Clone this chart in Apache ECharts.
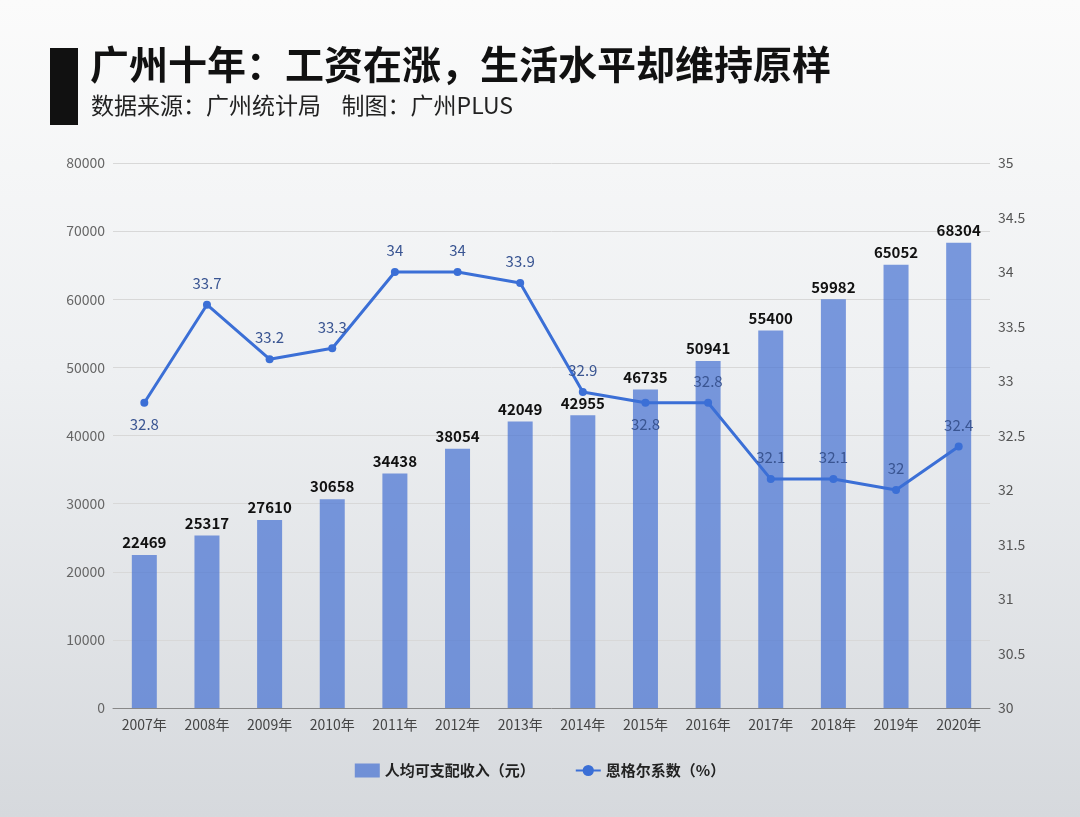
<!DOCTYPE html>
<html><head><meta charset="utf-8">
<script src="https://cdn.jsdelivr.net/npm/echarts@6/dist/echarts.min.js"></script>
<style>html,body{margin:0;padding:0;}#c{width:1080px;height:817px;}</style>
</head><body><div id="c"></div>
<script>
const years = ['2007年','2008年','2009年','2010年','2011年','2012年','2013年','2014年','2015年','2016年','2017年','2018年','2019年','2020年'];
const income = [22469,25317,27610,30658,34438,38054,42049,42955,46735,50941,55400,59982,65052,68304];
const engel = [32.8,33.7,33.2,33.3,34,34,33.9,32.9,32.8,32.8,32.1,32.1,32,32.4];
const belowIdx = [0,8];
const font = '"Noto Sans CJK SC","Noto Sans",sans-serif';
const chart = echarts.init(document.getElementById('c'));
chart.setOption({
  backgroundColor: new echarts.graphic.LinearGradient(0,0,0,1,[{offset:0,color:'#fbfbfb'},{offset:0.45,color:'#eef0f2'},{offset:1,color:'#d6d9dd'}]),
  textStyle:{fontFamily:font},
  graphic:[
    {type:'rect',left:50,top:48,shape:{width:28,height:77},style:{fill:'#111'}},
    {type:'text',left:90,top:45,style:{text:'广州十年：工资在涨，生活水平却维持原样',font:'bold 39px '+font,fill:'#111'}},
    {type:'text',left:91,top:94,style:{text:'数据来源：广州统计局    制图：广州PLUS',font:'23px '+font,fill:'#222'}}
  ],
  grid:{left:113,right:90,top:163,bottom:109},
  legend:{bottom:34,left:'center',itemGap:40,textStyle:{fontSize:15,fontWeight:'bold',color:'#222'},
    data:[{name:'人均可支配收入（元）',icon:'rect'},{name:'恩格尔系数（%）'}]},
  xAxis:{type:'category',data:years,axisTick:{show:false},axisLine:{lineStyle:{color:'#888'}},
    axisLabel:{color:'#444',fontSize:14,margin:10}},
  yAxis:[
    {type:'value',min:0,max:80000,interval:10000,axisLabel:{color:'#666',fontSize:14,formatter:v=>String(v)},
      splitLine:{lineStyle:{color:'#d8d8d8'}},axisLine:{show:false}},
    {type:'value',min:30,max:35,interval:0.5,axisLabel:{color:'#555',fontSize:14},splitLine:{show:false},axisLine:{show:false}}
  ],
  series:[
    {name:'人均可支配收入（元）',type:'bar',data:income,barWidth:25,
      itemStyle:{color:'rgba(72,115,210,0.72)'},
      label:{show:true,position:'top',fontWeight:'bold',fontSize:15,color:'#111'}},
    {name:'恩格尔系数（%）',type:'line',yAxisIndex:1,symbol:'circle',symbolSize:8,
      lineStyle:{width:3,color:'#3b6fd6'},itemStyle:{color:'#3b6fd6'},
      data:engel.map((v,i)=>({value:v,label:{position:belowIdx.includes(i)?'bottom':'top'}})),
      label:{show:true,distance:10,fontSize:15,color:'#3a5592'}}
  ]
});
</script></body></html>
